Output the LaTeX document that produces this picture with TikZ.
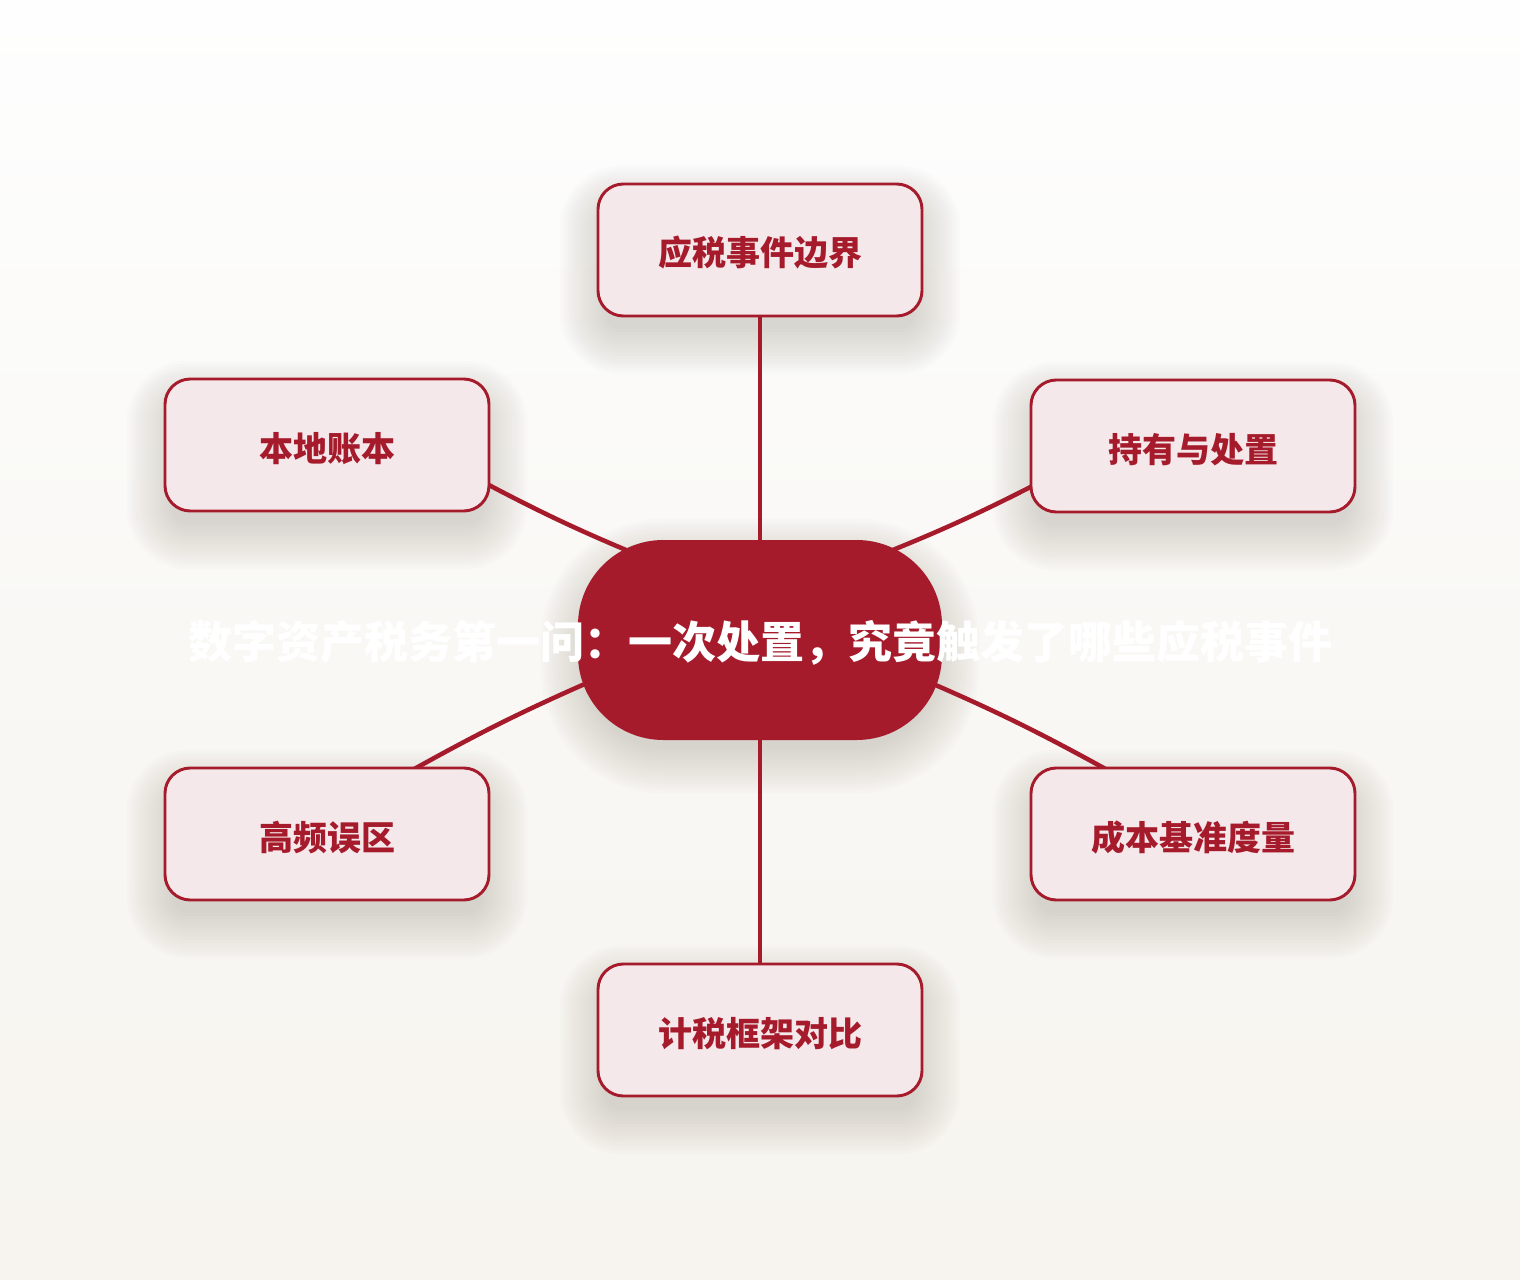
\documentclass[tikz,border=0pt]{standalone}
\usepackage{fontspec}
\newfontfamily\cjk{Noto Sans CJK SC}
\usetikzlibrary{calc}
\definecolor{myred}{HTML}{A51B2B}
\definecolor{boxfill}{HTML}{F5E8EB}
\definecolor{bgtop}{HTML}{FEFEFE}
\definecolor{bgmid}{HTML}{F9F8F5}
\definecolor{bgbot}{HTML}{F7F4EF}
\definecolor{shadowcol}{HTML}{4A4438}
\pgfdeclarelayer{bg}
\pgfdeclarelayer{shadow}
\pgfdeclarelayer{lines}
\pgfsetlayers{bg,shadow,lines,main}
\newcommand{\softshadow}[3]{% node, corner radius (pt), y offset (px)
  \foreach \i in {0,...,15}{
    \pgfmathsetmacro{\s}{-8+\i*3}
    \pgfmathsetmacro{\rr}{max(#2+\s*0.75,2)}
    \fill[shadowcol, opacity=0.012, rounded corners=\rr pt]
      ($(#1.south west)+(-\s,\s+#3)$) rectangle ($(#1.north east)+(\s,-\s+#3)$);
  }}
\begin{document}
\begin{tikzpicture}[x=0.75pt,y=-0.75pt,
  box/.style={draw=myred, line width=2.2pt, fill=boxfill, rounded corners=19pt,
    minimum width=243pt, minimum height=99pt, inner sep=0pt,
    text height=28pt, text depth=4pt,
    font=\cjk\bfseries\fontsize{25.5}{30}\selectfont, text=myred},
  hub/.style={fill=myred, rounded corners=64pt, minimum width=273pt, minimum height=150pt, inner sep=0pt},
  hubtext/.style={font=\cjk\bfseries\fontsize{33}{38}\selectfont, text=white, inner sep=0pt},
  conn/.style={draw=myred, line width=3.4pt}]
\useasboundingbox (0,0) rectangle (1520,1280);
\begin{pgfonlayer}{bg}
\fill[top color=bgtop, bottom color=bgmid] (0,0) rectangle (1520,640);
\fill[top color=bgmid, bottom color=bgbot] (0,640) rectangle (1520,1280);
\end{pgfonlayer}
\node[box] (b0) at (760,250) {应税事件边界};
\node[box] (b1) at (327,445) {本地账本};
\node[box] (b2) at (1193,446) {持有与处置};
\node[box] (b3) at (327,834) {高频误区};
\node[box] (b4) at (1193,834) {成本基准度量};
\node[box] (b5) at (760,1030) {计税框架对比};
\node[hub] (c) at (760,640) {};
\node[hubtext] (ct) at ($(c.center)+(0,3)$) {数字资产税务第一问：一次处置，究竟触发了哪些应税事件};
\begin{pgfonlayer}{shadow}
\softshadow{b0}{19}{20}
\softshadow{b1}{19}{20}
\softshadow{b2}{19}{20}
\softshadow{b3}{19}{20}
\softshadow{b4}{19}{20}
\softshadow{b5}{19}{20}
\softshadow{c}{64}{16}
\end{pgfonlayer}
\begin{pgfonlayer}{lines}
\draw[conn] (c.center) -- (b0.center);
\draw[conn] (c.center) -- (b5.center);
\draw[conn] ($(c.center)+(-100,-76)$) to[bend left=3] ($(b1.center)+(143,30)$);
\draw[conn] ($(c.center)+(100,-77)$) to[bend right=3] ($(b2.center)+(-143,31)$);
\draw[conn] ($(c.center)+(-150,33)$) to[bend right=3] ($(b3.center)+(73,-57)$);
\draw[conn] ($(c.center)+(150,34)$) to[bend left=3] ($(b4.center)+(-73,-57)$);
\end{pgfonlayer}
\end{tikzpicture}
\end{document}
